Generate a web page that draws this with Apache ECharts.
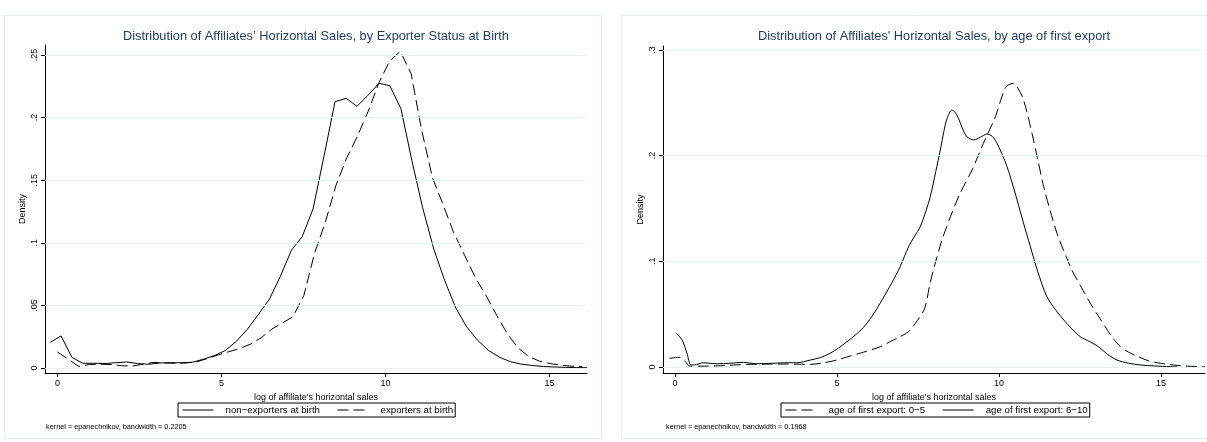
<!DOCTYPE html>
<html>
<head>
<meta charset="utf-8">
<script src="https://cdn.jsdelivr.net/npm/echarts@6.0.0/dist/echarts.min.js"></script>
<style>
html,body{margin:0;padding:0;background:#fff;}
#chart{width:1207px;height:442px;}
</style>
</head>
<body>
<div id="chart"></div>
<script>
// ---------- DATA ----------
const titleLeft = "Distribution of Affiliates\u2019 Horizontal Sales, by Exporter Status at Birth";
const titleRight = "Distribution of Affiliates' Horizontal Sales, by age of first export";
const xAxisTitle = "log of affiliate's horizontal sales";
const yAxisTitle = "Density";
const noteLeft = "kernel = epanechnikov, bandwidth = 0.2205";
const noteRight = "kernel = epanechnikov, bandwidth = 0.1968";
const xTicks = [0, 5, 10, 15];
const yTicksLeft = [0, 0.05, 0.1, 0.15, 0.2, 0.25];
const yTicksRight = [0, 0.1, 0.2, 0.3];

const nameNonExp = "non\u2212exporters at birth";
const nameExp = "exporters at birth";
const nameAge05 = "age of first export: 0\u22125";
const nameAge610 = "age of first export: 6\u221210";

// Left panel: non-exporters at birth (solid)
const xNonExp = [-0.22,0.11,0.44,0.78,1.11,1.45,1.78,2.11,2.45,2.78,3.12,3.45,3.78,4.12,4.45,4.79,5.12,5.46,5.79,6.13,6.46,6.79,7.13,7.46,7.79,8.13,8.46,8.80,9.13,9.47,9.80,10.13,10.47,10.80,11.13,11.47,11.80,12.14,12.47,12.81,13.14,13.48,13.81,14.15,14.48,14.81,15.15,15.48,15.81,16.14];
const yNonExp = [0.0205,0.0256,0.0085,0.0037,0.0038,0.0036,0.0042,0.0048,0.0035,0.0030,0.0040,0.0042,0.0042,0.0046,0.0070,0.0100,0.0140,0.0215,0.031,0.043,0.055,0.073,0.094,0.105,0.127,0.170,0.2127,0.2154,0.209,0.218,0.2274,0.2255,0.207,0.166,0.128,0.095,0.070,0.048,0.033,0.022,0.014,0.0085,0.005,0.003,0.002,0.0012,0.0008,0.0005,0.0003,0.0002];
// Left panel: exporters at birth (dashed)
const xExp = [0.00,0.33,0.65,0.98,1.31,1.63,1.96,2.29,2.61,2.94,3.27,3.59,3.92,4.25,4.57,4.90,5.22,5.55,5.88,6.20,6.53,6.86,7.18,7.51,7.84,8.16,8.49,8.82,9.14,9.47,9.80,10.12,10.45,10.78,11.10,11.43,11.76,12.08,12.41,12.74,13.06,13.39,13.72,14.04,14.37,14.69,15.02,15.35,15.67,16.00];
const yExp = [0.0128,0.0070,0.0012,0.0028,0.0030,0.0028,0.0018,0.0016,0.0030,0.0045,0.0040,0.0038,0.0040,0.0050,0.0075,0.0105,0.0130,0.0155,0.019,0.024,0.031,0.036,0.041,0.058,0.092,0.116,0.146,0.168,0.185,0.205,0.228,0.245,0.253,0.235,0.190,0.152,0.130,0.108,0.090,0.072,0.058,0.042,0.027,0.016,0.009,0.0055,0.0035,0.0022,0.0015,0.0010];

// Right panel: age of first export 0-5 (dashed)
const xAge05 = [-0.17,0.16,0.32,0.45,0.8,1.3,1.8,2.32,2.8,3.35,3.8,4.18,4.6,5.0,5.41,5.82,6.34,6.64,6.95,7.21,7.42,7.7,7.88,8.05,8.24,8.50,8.80,9.17,9.52,9.89,10.05,10.19,10.3,10.45,10.6,10.76,11.02,11.2,11.38,11.58,11.79,12.0,12.25,12.55,12.82,13.05,13.28,13.5,13.75,14.0,14.26,14.6,14.98,15.5,16.11,16.36];
const yAge05 = [0.0082,0.0092,0.005,0.001,0.0008,0.001,0.0018,0.0025,0.0027,0.0028,0.0026,0.0025,0.004,0.0066,0.0104,0.014,0.0192,0.024,0.0287,0.0334,0.0413,0.055,0.080,0.100,0.120,0.142,0.1643,0.1864,0.2116,0.2368,0.252,0.2637,0.267,0.2684,0.263,0.2526,0.2211,0.196,0.1706,0.148,0.1265,0.110,0.0918,0.075,0.0603,0.049,0.0381,0.028,0.0192,0.014,0.0104,0.006,0.0035,0.0015,0.0003,0.0002];
// Right panel: age of first export 6-10 (solid)
const xAge610 = [0.04,0.22,0.37,0.49,0.6,0.88,1.29,1.7,2.12,2.5,3.0,3.5,3.76,4.18,4.5,4.79,5.05,5.31,5.6,5.88,6.15,6.39,6.7,6.95,7.21,7.4,7.57,7.75,7.88,8.05,8.19,8.3,8.40,8.55,8.65,8.75,8.88,9.01,9.22,9.42,9.63,9.8,9.94,10.1,10.25,10.4,10.56,10.75,10.97,11.2,11.48,11.75,12.0,12.25,12.51,12.8,13.07,13.35,13.64,14.0,14.36,14.8,15.29,15.5];
const yAge610 = [0.032,0.0255,0.013,0.002,0.002,0.004,0.003,0.0035,0.0044,0.003,0.0035,0.004,0.004,0.0066,0.009,0.013,0.018,0.024,0.031,0.0397,0.051,0.0634,0.080,0.0949,0.1138,0.124,0.1327,0.148,0.1611,0.185,0.2053,0.223,0.2353,0.2431,0.241,0.2353,0.225,0.2179,0.2148,0.2173,0.2204,0.218,0.2116,0.201,0.1895,0.175,0.158,0.137,0.1138,0.090,0.0665,0.054,0.0445,0.036,0.0287,0.024,0.0192,0.012,0.0066,0.0035,0.0019,0.001,0.0003,0.0002];

// ---------- STYLE ----------
const FONT = "'Liberation Sans', Arial, Helvetica, sans-serif";
const GRID_COLOR = '#e8f0f1';
const BORDER_COLOR = '#e3ecee';
const TITLE_COLOR = '#1e3d6b';
const DASH = [11, 5];

function pairs(xs, ys) { return xs.map((x, i) => [x, ys[i]]); }
function fmtTick(v) {
  if (v === 0) return '0';
  return String(+v.toFixed(3)).replace(/^0\./, '.');
}

function makeXAxis(gi, min, max) {
  return {
    type: 'value', gridIndex: gi, min: min, max: max,
    name: xAxisTitle, nameLocation: 'middle', nameGap: 19,
    nameTextStyle: {fontFamily: FONT, fontSize: 9, color: '#000'},
    axisLine: {show: true, onZero: false, lineStyle: {color: '#000', width: 1}},
    axisTick: {show: true, length: 4, customValues: xTicks, lineStyle: {color: '#000'}},
    axisLabel: {customValues: xTicks, margin: 6, fontFamily: FONT, fontSize: 9, color: '#000'},
    splitLine: {show: false}
  };
}
function makeYAxis(gi, min, max, ticks) {
  return {
    type: 'value', gridIndex: gi, min: min, max: max,
    name: yAxisTitle, nameLocation: 'middle', nameGap: 18, nameRotate: 90,
    nameTextStyle: {fontFamily: FONT, fontSize: 9, color: '#000'},
    axisLine: {show: true, onZero: false, lineStyle: {color: '#000', width: 1}},
    axisTick: {show: true, length: 4, customValues: ticks, lineStyle: {color: '#000'}},
    axisLabel: {customValues: ticks, rotate: 90, margin: 6, fontFamily: FONT, fontSize: 9, color: '#000',
      formatter: fmtTick},
    splitLine: {show: false}
  };
}
function gridSeries(xi, ticks) {
  return {
    type: 'line', xAxisIndex: xi, yAxisIndex: xi, data: [], z: 1, silent: true,
    markLine: {silent: true, symbol: 'none', animation: false,
      label: {show: false},
      lineStyle: {color: GRID_COLOR, type: 'solid', width: 1.2},
      data: ticks.map(t => ({yAxis: t}))}
  };
}
function curve(name, xi, xs, ys, dashed, smooth) {
  return {
    name: name, type: 'line', xAxisIndex: xi, yAxisIndex: xi,
    data: pairs(xs, ys), symbol: 'none', smooth: smooth, z: 3,
    lineStyle: {color: '#000', width: 1, type: dashed ? DASH : 'solid'},
    itemStyle: {color: '#000'}
  };
}
function legendBox(left, names) {
  return {
    data: names, left: left, top: 403, orient: 'horizontal',
    borderColor: '#000', borderWidth: 1, borderRadius: 0,
    padding: [2, 2, 2, 4], itemWidth: 31, itemHeight: 12, itemGap: 17,
    selectedMode: false,
    itemStyle: {opacity: 0},
    lineStyle: {width: 1, opacity: 1},
    textStyle: {fontFamily: FONT, fontSize: 9.7, color: '#000', padding: [0, 0, 0, 7]}
  };
}

const option = {
  animation: false,
  backgroundColor: '#ffffff',
  grid: [
    {left: 45, top: 45, width: 542, height: 328, containLabel: false},
    {left: 663, top: 46, width: 542, height: 327, containLabel: false}
  ],
  xAxis: [makeXAxis(0, -0.38, 16.14), makeXAxis(1, -0.37, 16.36)],
  yAxis: [makeYAxis(0, -0.004, 0.258, yTicksLeft), makeYAxis(1, -0.0057, 0.3037, yTicksRight)],
  legend: [legendBox(178, [nameNonExp, nameExp]), legendBox(781, [nameAge05, nameAge610])],
  series: [
    gridSeries(0, yTicksLeft),
    gridSeries(1, yTicksRight),
    curve(nameNonExp, 0, xNonExp, yNonExp, false, false),
    curve(nameExp, 0, xExp, yExp, true, false),
    curve(nameAge05, 1, xAge05, yAge05, true, 0.3),
    curve(nameAge610, 1, xAge610, yAge610, false, 0.3)
  ],
  graphic: [
    {type: 'rect', z: -10, shape: {x: 4.5, y: 15.5, width: 597, height: 423}, style: {fill: 'none', stroke: BORDER_COLOR, lineWidth: 1}},
    {type: 'rect', z: -10, shape: {x: 621.5, y: 15.5, width: 600, height: 423}, style: {fill: 'none', stroke: BORDER_COLOR, lineWidth: 1}},
    {type: 'text', x: 316, y: 36, style: {text: titleLeft, fill: TITLE_COLOR, font: "12.8px " + FONT, textAlign: 'center', textVerticalAlign: 'middle'}},
    {type: 'text', x: 934, y: 36, style: {text: titleRight, fill: TITLE_COLOR, font: "12.8px " + FONT, textAlign: 'center', textVerticalAlign: 'middle'}},
    {type: 'text', x: 46, y: 427, style: {text: noteLeft, fill: '#000', font: "7.3px " + FONT, textAlign: 'left', textVerticalAlign: 'middle'}},
    {type: 'text', x: 666, y: 427, style: {text: noteRight, fill: '#000', font: "7.3px " + FONT, textAlign: 'left', textVerticalAlign: 'middle'}}
  ]
};

const chart = echarts.init(document.getElementById('chart'), null, {renderer: 'canvas'});
chart.setOption(option);
</script>
</body>
</html>
